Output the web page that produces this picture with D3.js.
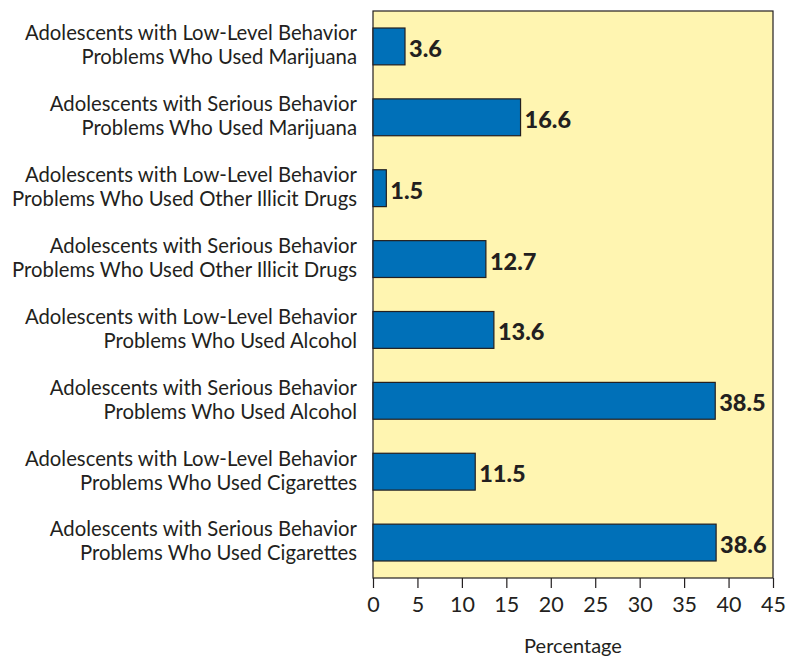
<!DOCTYPE html>
<html>
<head>
<meta charset="utf-8">
<script src="https://cdn.jsdelivr.net/npm/d3@7"></script>
<style>
  body { margin: 0; background: #fff; }
  text { fill: #231f20; }
</style>
</head>
<body>
<svg id="chart"></svg>
<script>
var categories = [
    ['Adolescents with Low-Level Behavior', 'Problems Who Used Marijuana'],
    ['Adolescents with Serious Behavior', 'Problems Who Used Marijuana'],
    ['Adolescents with Low-Level Behavior', 'Problems Who Used Other Illicit Drugs'],
    ['Adolescents with Serious Behavior', 'Problems Who Used Other Illicit Drugs'],
    ['Adolescents with Low-Level Behavior', 'Problems Who Used Alcohol'],
    ['Adolescents with Serious Behavior', 'Problems Who Used Alcohol'],
    ['Adolescents with Low-Level Behavior', 'Problems Who Used Cigarettes'],
    ['Adolescents with Serious Behavior', 'Problems Who Used Cigarettes']
];
var values = [3.6, 16.6, 1.5, 12.7, 13.6, 38.5, 11.5, 38.6];
var xTicks = [0, 5, 10, 15, 20, 25, 30, 35, 40, 45];

(function() {
    'use strict';

    var WIDTH = 788, HEIGHT = 660;
    var margin = { left: 373, right: 15, top: 11, bottom: 82 };
    var FONT = 'Lato, "Open Sans", sans-serif';

    var svg = d3.select('#chart').attr('width', WIDTH).attr('height', HEIGHT);

    var x = d3.scaleLinear().domain([0, 45]).range([margin.left, WIDTH - margin.right]);
    var y = d3.scaleBand()
        .domain(d3.range(values.length))
        .range([margin.top, HEIGHT - margin.bottom])
        .paddingInner(0.48)
        .paddingOuter(0.24);

    // plot background
    svg.append('rect')
        .attr('x', x(0))
        .attr('y', margin.top)
        .attr('width', x(45) - x(0))
        .attr('height', HEIGHT - margin.bottom - margin.top)
        .attr('fill', '#fff5b1')
        .attr('stroke', '#231f20')
        .attr('stroke-width', 1.2);

    svg.selectAll('.bar').data(values).enter()
        .append('rect')
            .attr('class', 'bar')
            .attr('x', x(0))
            .attr('y', (d, i) => y(i))
            .attr('width', d => x(d) - x(0))
            .attr('height', y.bandwidth())
            .attr('fill', '#0070b8')
            .attr('stroke', '#231f20')
            .attr('stroke-width', 1.2);

    svg.selectAll('.value').data(values).enter()
        .append('text')
            .attr('class', 'value')
            .attr('x', d => x(d) + 4)
            .attr('y', (d, i) => y(i) + y.bandwidth() / 2 + 2)
            .attr('dy', '0.36em')
            .style('font-family', FONT)
            .style('font-size', '23.5px')
            .style('font-weight', 900)
            .text(d => d.toFixed(1));

    // category labels, two lines each
    var labels = svg.selectAll('.cat').data(categories).enter()
        .append('text')
            .attr('class', 'cat')
            .attr('text-anchor', 'end')
            .attr('y', (d, i) => y(i) + y.bandwidth() / 2)
            .style('font-family', FONT)
            .style('font-size', '20.3px');
    labels.selectAll('tspan').data(d => d).enter()
        .append('tspan')
            .attr('x', 357)
            .attr('dy', (d, j) => j === 0 ? '-0.3em' : '1.18em')
            .text(d => d);

    var axis = svg.append('g')
        .attr('transform', 'translate(0,' + (HEIGHT - margin.bottom) + ')')
        .call(d3.axisBottom(x).tickValues(xTicks).tickSize(10).tickPadding(9));
    axis.select('.domain').remove();
    axis.selectAll('line').attr('stroke', '#231f20').attr('stroke-width', 1.2);
    axis.selectAll('text')
        .style('font-family', FONT)
        .style('font-size', '21.5px')
        .attr('fill', '#231f20');

    svg.append('text')
        .attr('x', x(22.5))
        .attr('y', 653)
        .attr('text-anchor', 'middle')
        .style('font-family', FONT)
        .style('font-size', '20px')
        .text('Percentage');
})();
</script>
</body>
</html>
